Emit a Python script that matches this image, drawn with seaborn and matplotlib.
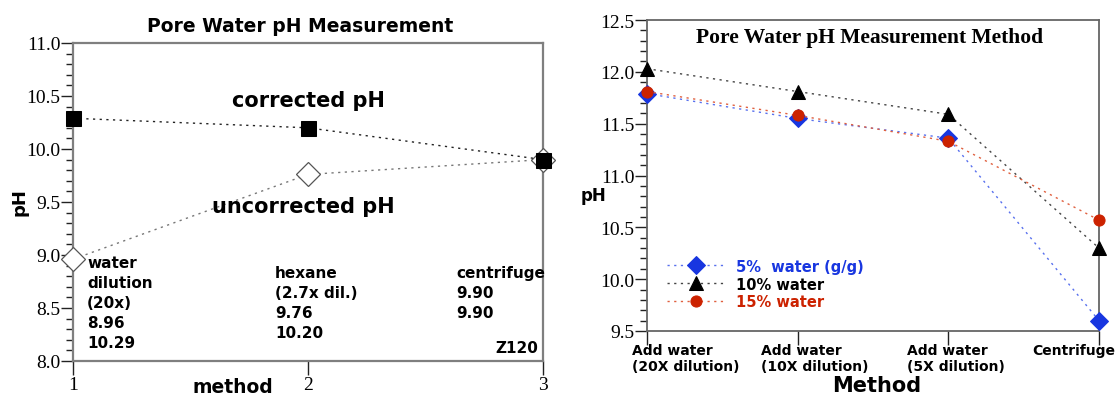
import numpy as np
import pandas as pd
import matplotlib
matplotlib.use("Agg")
import matplotlib.pyplot as plt
import matplotlib.transforms as mtransforms
from matplotlib.ticker import MultipleLocator, FormatStrFormatter
import seaborn as sns

# ---- left panel data ----
method_num = [1, 2, 3]
uncorrected_ph = [8.96, 9.76, 9.90]
corrected_ph = [10.29, 10.20, 9.90]
method_notes = ["water\ndilution\n(20x)", "hexane\n(2.7x dil.)", "centrifuge"]

# ---- right panel data ----
methods = ["Add water\n(20X dilution)", "Add water\n(10X dilution)",
           "Add water\n(5X dilution)", "Centrifuge"]
ph_5pct = [11.79, 11.55, 11.36, 9.60]
ph_10pct = [12.03, 11.81, 11.59, 10.30]
ph_15pct = [11.81, 11.58, 11.33, 10.57]
series_names = ["5%  water (g/g)", "10% water", "15% water"]

sns.set_theme(style="white")
plt.rcParams["font.family"] = ["DejaVu Sans"]
plt.rcParams.update({
    "text.color": "black",
    "axes.labelcolor": "black",
    "xtick.color": "black",
    "ytick.color": "black",
})

BLUE = "#1836e0"
RED = "#cc2200"
SERIF = "Liberation Serif"
SPARSE_DOTS = (0, (1.6, 3.2))
W, H = 1119, 402

fig = plt.figure(figsize=(W / 100, H / 100), dpi=100)
ax1 = fig.add_axes([73 / W, 1 - 362 / H, 470 / W, 318 / H])
ax2 = fig.add_axes([647 / W, 1 - 332 / H, 452 / W, 311 / H])


def style_axes(ax, spine_col, spine_w):
    for side in ax.spines:
        ax.spines[side].set_color(spine_col)
        ax.spines[side].set_linewidth(spine_w)
    ax.tick_params(axis="y", which="major", direction="out", length=9,
                   width=1, color="#222222", left=True, pad=0)
    ax.tick_params(axis="y", which="minor", direction="out", length=5,
                   width=1, color="#222222", left=True)
    ax.tick_params(axis="x", which="major", direction="out", length=10,
                   width=1, color="#222222", bottom=True, pad=1)


# ================= left panel =================
left_df = pd.DataFrame({
    "method": method_num * 2,
    "pH": uncorrected_ph + corrected_ph,
    "kind": ["uncorrected"] * 3 + ["corrected"] * 3,
})

sns.lineplot(data=left_df[left_df.kind == "uncorrected"], x="method", y="pH",
             ax=ax1, color="#777777", linestyle=SPARSE_DOTS, linewidth=1.0,
             marker="D", markersize=12.7, markerfacecolor="white",
             markeredgecolor="#555555", markeredgewidth=0.9, legend=False,
             clip_on=False, zorder=3)
sns.lineplot(data=left_df[left_df.kind == "corrected"], x="method", y="pH",
             ax=ax1, color="#222222", linestyle=SPARSE_DOTS, linewidth=1.0,
             marker="s", markersize=10.8, markerfacecolor="black",
             markeredgecolor="black", legend=False, clip_on=False, zorder=4)

ax1.set_xlim(1, 3)
ax1.set_ylim(8.0, 11.0)
ax1.set_xticks(method_num)
ax1.yaxis.set_major_locator(MultipleLocator(0.5))
ax1.yaxis.set_minor_locator(MultipleLocator(0.1))
ax1.yaxis.set_major_formatter(FormatStrFormatter("%.1f"))
style_axes(ax1, "#7f7f7f", 1.6)
for lab in ax1.get_xticklabels() + ax1.get_yticklabels():
    lab.set_fontfamily(SERIF)
    lab.set_fontsize(14)
ax1.set_xlabel("")
ax1.set_ylabel("")

fig.text(300 / W, 1 - 32 / H, "Pore Water pH Measurement", fontsize=13.5,
         fontweight="bold", ha="center", va="baseline")
ax1.text(2.0, 10.46, "corrected pH", fontsize=15, fontweight="bold",
         ha="center", va="center")
ax1.text(1.98, 9.46, "uncorrected pH", fontsize=15, fontweight="bold",
         ha="center", va="center")

note_x = [1.06, 1.86, 2.63]
note_top = [9.0, 8.91, 8.91]
for i in range(3):
    txt = f"{method_notes[i]}\n{uncorrected_ph[i]:.2f}\n{corrected_ph[i]:.2f}"
    ax1.text(note_x[i], note_top[i], txt, fontsize=11, fontweight="bold",
             ha="left", va="top", linespacing=1.42)
ax1.text(2.98, 8.06, "Z120", fontsize=11, fontweight="bold",
         ha="right", va="bottom")
fig.text(233 / W, 1 - 388 / H, "method", fontsize=13.5, fontweight="bold",
         ha="center", va="center")
fig.text(20 / W, 1 - 202 / H, "pH", fontsize=13, fontweight="bold",
         ha="center", va="center", rotation=90)

# ================= right panel =================
right_df = pd.DataFrame({
    "method": methods * 3,
    "pH": ph_5pct + ph_10pct + ph_15pct,
    "series": [series_names[0]] * 4 + [series_names[1]] * 4 + [series_names[2]] * 4,
})

styles = [
    (series_names[0], BLUE, "#5870ee", "D", 8.7),
    (series_names[1], "black", "#444444", "^", 10),
    (series_names[2], RED, "#e0603f", "o", 8),
]
for name, col, line_col, mk, ms in styles:
    sub = right_df[right_df.series == name]
    sns.lineplot(data=sub, x="method", y="pH", ax=ax2, sort=False,
                 color=line_col, linestyle=SPARSE_DOTS, linewidth=1.0,
                 marker=mk, markersize=ms, markerfacecolor=col,
                 markeredgecolor=col, label=name, clip_on=False, zorder=3)

ax2.set_xlim(0, 3)
ax2.set_ylim(9.5, 12.5)
ax2.yaxis.set_major_locator(MultipleLocator(0.5))
ax2.yaxis.set_minor_locator(MultipleLocator(0.1))
ax2.yaxis.set_major_formatter(FormatStrFormatter("%.1f"))
style_axes(ax2, "#666666", 1.3)
ax2.set_xticks(range(len(methods)))
ax2.set_xticklabels(methods, fontsize=10, fontweight="bold",
                    linespacing=1.1, ha="left")
ax2.tick_params(axis="x", pad=-1)
# nudge each two-line label so the block sits where the category text goes
label_shift_px = [-15, -37, -41, -67]
for lab, dx in zip(ax2.get_xticklabels(), label_shift_px):
    lab.set_transform(lab.get_transform() +
                      mtransforms.ScaledTranslation(dx / 100, 0,
                                                    fig.dpi_scale_trans))
for lab in ax2.get_yticklabels():
    lab.set_fontfamily(SERIF)
    lab.set_fontsize(14)
ax2.set_xlabel("")
ax2.set_ylabel("")
fig.text(877 / W, 1 - 386 / H, "Method", fontsize=15, fontweight="bold",
         ha="center", va="center")
fig.text(593 / W, 1 - 196 / H, "pH", fontsize=12, fontweight="bold",
         ha="center", va="center")

fig.text(870 / W, 1 - 43 / H, "Pore Water pH Measurement Method",
         ha="center", va="baseline", fontsize=15.5, fontweight="bold",
         fontfamily=SERIF)

leg = ax2.legend(loc="center left", bbox_to_anchor=(667 / W, 1 - 285 / H),
                 bbox_transform=fig.transFigure, frameon=False,
                 handlelength=4.0, handletextpad=0.7, labelspacing=0.2,
                 borderaxespad=0, borderpad=0,
                 prop={"weight": "bold", "size": 10.5})
for txt, st in zip(leg.get_texts(), styles):
    txt.set_color(st[1])

fig.savefig("out.png", dpi=100)
